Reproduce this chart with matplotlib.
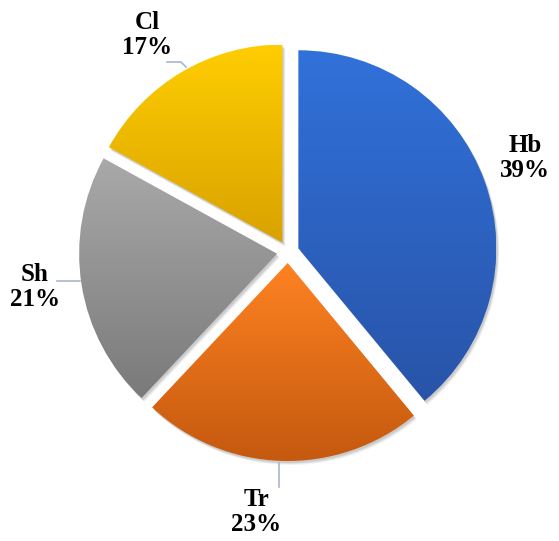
import matplotlib.pyplot as plt
import numpy as np
from matplotlib.colors import LinearSegmentedColormap
from matplotlib.patches import Wedge

labels = ["Hb", "Tr", "Sh", "Cl"]
values = [39, 23, 21, 17]
top_colors = ["#3171da", "#ff8222", "#a9a9a9", "#ffcd00"]
bottom_colors = ["#2854a8", "#c4590f", "#7a7a7a", "#d9a200"]

# label positions (pixel coords, y from top) and leader lines
label_pos = [(525, 158), (256, 512), (35, 287), (147, 35)]
leaders = [None, [(279, 463), (279, 487)], [(57, 281), (80, 281)],
           [(167, 62), (181, 62), (186, 67)]]

W, H = 559, 541
fig = plt.figure(figsize=(W / 100, H / 100), dpi=100)
ax = fig.add_axes([0, 0, 1, 1])

cx, cy, r = 288, H - 252, 198
# explode is in data units for pie's wedge offset
wedges, _ = ax.pie(values, startangle=90, counterclock=False,
                   explode=[11] * 4, center=(cx, cy), radius=r,
                   frame=True)
ax.set_xlim(0, W)
ax.set_ylim(0, H)
ax.axis("off")

for w, c1, c2 in zip(wedges, top_colors, bottom_colors):
    w.set_facecolor("none")
    w.set_edgecolor("none")
    # soft shadow
    for k, a in [(4, 0.05), (3, 0.07), (2, 0.09)]:
        sh = Wedge((w.center[0] + k * 0.7, w.center[1] - k), w.r,
                   w.theta1, w.theta2, facecolor="black",
                   alpha=a, edgecolor="none", zorder=1)
        ax.add_patch(sh)
    bb = w.get_path().get_extents(w.get_patch_transform())
    cmap = LinearSegmentedColormap.from_list("g", [c2, c1])
    grad = np.linspace(0, 1, 256).reshape(-1, 1)
    im = ax.imshow(grad, cmap=cmap, origin="lower", aspect="auto",
                   extent=[bb.x0, bb.x1, bb.y0, bb.y1], zorder=2)
    im.set_clip_path(w)

for lab, v, (px, py) in zip(labels, values, label_pos):
    ax.text(px, H - py, f"{lab}\n{v}%", ha="center", va="center",
            fontsize=18, fontweight="bold", family="Liberation Serif",
            linespacing=1.12, zorder=5)

for ln in leaders:
    if ln:
        xs = [p[0] for p in ln]
        ys = [H - p[1] for p in ln]
        ax.plot(xs, ys, color="#a9b8cb", lw=1.2, zorder=4)

ax.set_xlim(0, W)
ax.set_ylim(0, H)
ax.set_aspect("auto")
fig.savefig("out.png", dpi=100)
